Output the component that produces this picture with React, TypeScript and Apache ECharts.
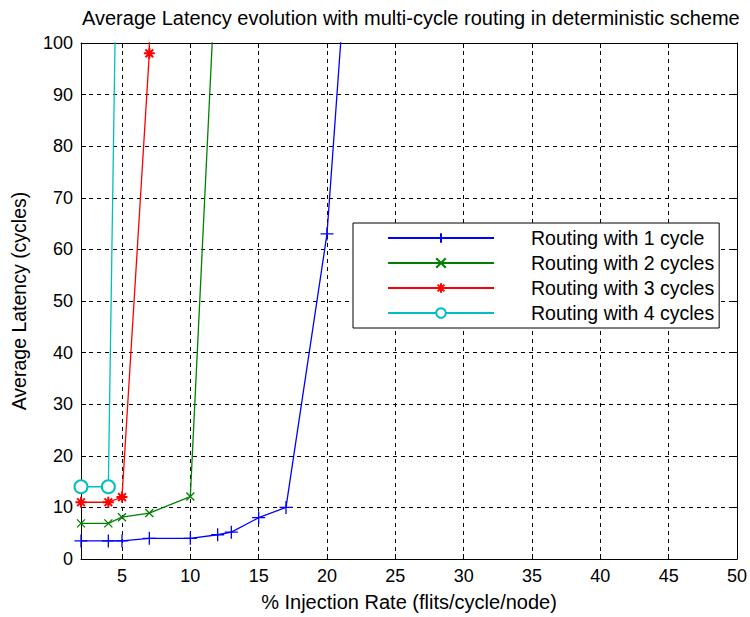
import React, { useEffect, useRef } from "react";
import * as echarts from "echarts";

const titleText = "Average Latency evolution with multi-cycle routing in deterministic scheme";
const xAxisName = "% Injection Rate (flits/cycle/node)";
const yAxisName = "Average Latency (cycles)";

const seriesNames = [
  "Routing with 1 cycle",
  "Routing with 2 cycles",
  "Routing with 3 cycles",
  "Routing with 4 cycles",
];

const cycle1X = [2, 4, 5, 7, 10, 12, 13, 15, 17, 20, 22];
const cycle1Y = [3.5, 3.5, 3.5, 4, 4, 4.7, 5.2, 8, 10, 63, 137];
const cycle2X = [2, 4, 5, 7, 10, 12];
const cycle2Y = [6.9, 6.9, 8.1, 8.9, 12.1, 122];
const cycle3X = [2, 4, 5, 7, 7];
const cycle3Y = [11, 11, 12, 98, 130];
const cycle4X = [2, 4, 5];
const cycle4Y = [14, 14, 190];

const xTicks = [5, 10, 15, 20, 25, 30, 35, 40, 45, 50];
const xGrid = [5, 10, 15, 20, 25, 30, 35, 40, 45];

const FONT = "'Liberation Sans', Arial, Helvetica, sans-serif";

const plusSym = "path://M5,0L5,10M0,5L10,5";
const crossSym = "path://M0,0L10,10M0,10L10,0";
const starSym = "path://M5,0L5,10M0,5L10,5M1.5,1.5L8.5,8.5M1.5,8.5L8.5,1.5";

function pairs(xs: number[], ys: number[]) {
  return xs.map((x, i) => [x, ys[i]]);
}

export default function App() {
  const ref = useRef<HTMLDivElement>(null);
  useEffect(() => {
    if (!ref.current) return;
    const chart = echarts.init(ref.current, undefined, { renderer: "svg" });
    const mk = (
      name: string,
      data: number[][],
      color: string,
      symbol: string,
      size: number,
      bw: number
    ) => ({
      name,
      type: "line",
      data,
      xAxisIndex: 0,
      yAxisIndex: 0,
      symbol,
      symbolSize: size,
      clip: true,
      lineStyle: { color, width: 1.3 },
      itemStyle: { color, borderColor: color, borderWidth: bw },
      emphasis: { disabled: true },
      z: 3,
    });
    const axisCommon = {
      axisLine: { show: true, onZero: false, lineStyle: { color: "#000", width: 1 } },
      axisTick: { show: true, inside: true, length: 5, lineStyle: { color: "#000" } },
    };
    chart.setOption({
      animation: false,
      backgroundColor: "#fff",
      title: {
        text: titleText,
        left: 82,
        top: 8,
        padding: 0,
        textStyle: { fontFamily: FONT, fontSize: 20, fontWeight: "normal", color: "#000" },
      },
      grid: { left: 81, right: 10, top: 43, bottom: 55, containLabel: false },
      legend: {
        orient: "vertical",
        left: 353,
        top: 223,
        z: 10,
        itemWidth: 106,
        itemHeight: 12,
        itemGap: 5,
        padding: [5, 5, 5, 34],
        backgroundColor: "#fff",
        borderColor: "#000",
        borderWidth: 1,
        selectedMode: false,
        data: seriesNames,
        textStyle: {
          fontFamily: FONT,
          fontSize: 19.5,
          lineHeight: 20,
          color: "#000",
          padding: [0, 0, 0, 32],
        },
      },
      xAxis: [
        {
          type: "value",
          min: 2,
          max: 50,
          position: "bottom",
          name: xAxisName,
          nameLocation: "middle",
          nameGap: 33,
          nameTextStyle: { fontFamily: FONT, fontSize: 20, color: "#000" },
          ...axisCommon,
          axisTick: { ...axisCommon.axisTick, customValues: xTicks },
          axisLabel: { customValues: xTicks, margin: 8, fontFamily: FONT, fontSize: 18, color: "#000" },
          splitLine: { show: false },
        },
        {
          type: "value",
          min: 2,
          max: 50,
          position: "top",
          ...axisCommon,
          axisTick: { ...axisCommon.axisTick, customValues: xTicks },
          axisLabel: { show: false },
          splitLine: { show: false },
        },
      ],
      yAxis: [
        {
          type: "value",
          min: 0,
          max: 100,
          interval: 10,
          position: "left",
          name: yAxisName,
          nameLocation: "middle",
          nameGap: 52,
          nameTextStyle: { fontFamily: FONT, fontSize: 19.5, color: "#000" },
          ...axisCommon,
          axisLabel: { margin: 8, fontFamily: FONT, fontSize: 18, color: "#000" },
          splitLine: { show: true, lineStyle: { color: "#000", type: [4, 4], width: 1 } },
        },
        {
          type: "value",
          min: 0,
          max: 100,
          interval: 10,
          position: "right",
          ...axisCommon,
          axisLabel: { show: false },
          splitLine: { show: false },
        },
      ],
      series: [
        {
          type: "line",
          data: [],
          silent: true,
          xAxisIndex: 0,
          yAxisIndex: 0,
          z: 1,
          markLine: {
            silent: true,
            z: 1,
            symbol: "none",
            label: { show: false },
            lineStyle: { color: "#000", type: [4, 4], width: 1 },
            data: xGrid.map((v) => ({ xAxis: v })),
          },
        },
        mk(seriesNames[0], pairs(cycle1X, cycle1Y), "#0000ff", plusSym, 13, 1.3),
        mk(seriesNames[1], pairs(cycle2X, cycle2Y), "#008000", crossSym, 8, 1.3),
        mk(seriesNames[2], pairs(cycle3X, cycle3Y), "#ff0000", starSym, 11, 2),
        mk(seriesNames[3], pairs(cycle4X, cycle4Y), "#00bfbf", "emptyCircle", 13, 1.3),
      ],
    });
    return () => chart.dispose();
  }, []);
  return (
    <div
      ref={ref}
      style={{ position: "fixed", left: 0, top: 0, width: 750, height: 617, background: "#fff" }}
    />
  );
}
